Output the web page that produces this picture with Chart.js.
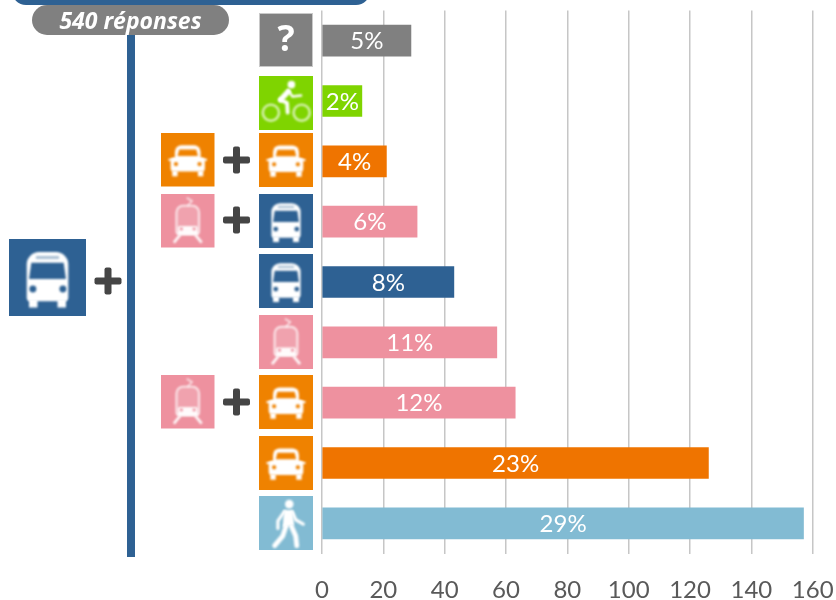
<!DOCTYPE html>
<html lang="fr">
<head>
<meta charset="utf-8">
<title>540 réponses</title>
<style>
    html, body { margin: 0; padding: 0; background: #fff; }
    canvas { display: block; }
</style>
<script src="https://cdn.jsdelivr.net/npm/chart.js@4"></script>
</head>
<body>
<canvas id="modes-chart" width="836" height="600"></canvas>
<script>
// Data
const categories = ['Ne sait pas', 'Vélo', 'Voiture + voiture', 'Tram + bus', 'Bus', 'Tram', 'Tram + voiture', 'Voiture', 'Marche'];
const answers = [29, 13, 21, 31, 43, 57, 63, 126, 157];
const shares = ['5%', '2%', '4%', '6%', '8%', '11%', '12%', '23%', '29%'];
const xTicks = [0, 20, 40, 60, 80, 100, 120, 140, 160];
const totalLabel = '540 réponses';

const GREY = '#808080', GREEN = '#7fd400', ORANGE = '#ef8200', PINK = '#ee919f', BLUE = '#2e6193', SKY = '#82bbd3';
const barColors = [GREY, GREEN, '#ef7400', PINK, BLUE, PINK, PINK, '#ef7400', SKY];

// Icon tiles: kind, x, y, size
const tiles = [
    ['unknown', 259, 13, 54],
    ['bike', 259, 76, 54],
    ['car', 259, 133, 54],
    ['car', 161, 133, 53.5],
    ['bus', 259, 194, 54],
    ['tram', 161, 194, 53.5],
    ['bus', 259, 254, 54],
    ['tram', 259, 315, 54],
    ['car', 259, 375, 54],
    ['tram', 161, 375, 53.5],
    ['car', 259, 436, 54],
    ['walk', 259, 496, 54],
    ['bus', 9, 239, 77]
];
const plusSigns = [[236.5, 160], [236.5, 220], [236.5, 402], [108, 281]];

function poly(ctx, pts) {
    ctx.beginPath();
    pts.forEach((p, i) => i ? ctx.lineTo(p[0], p[1]) : ctx.moveTo(p[0], p[1]));
}

function round(ctx, x, y, w, h, r) {
    ctx.beginPath();
    ctx.roundRect(x, y, w, h, r);
}

// Glyphs are drawn in a 100x100 box
function drawCar(ctx, bg) {
    ctx.fillStyle = '#fff';
    round(ctx, 26, 23, 48, 30, [12, 12, 0, 0]); ctx.fill();
    round(ctx, 18, 46, 64, 26, 6); ctx.fill();
    ctx.fillRect(21, 70, 10, 11);
    ctx.fillRect(69, 70, 10, 11);
    ctx.fillRect(14, 48, 72, 4);
    ctx.fillStyle = bg;
    poly(ctx, [[34, 31], [66, 31], [69, 43], [31, 43]]); ctx.fill();
    ctx.beginPath(); ctx.arc(28, 58, 4, 0, Math.PI * 2); ctx.arc(72, 58, 4, 0, Math.PI * 2); ctx.fill();
}

function drawBus(ctx, bg) {
    ctx.fillStyle = '#fff';
    round(ctx, 23, 17, 54, 64, [16, 16, 5, 5]); ctx.fill();
    ctx.fillRect(26, 78, 11, 11);
    ctx.fillRect(63, 78, 11, 11);
    ctx.fillStyle = bg;
    poly(ctx, [[29, 31], [71, 31], [74, 52], [26, 52]]); ctx.fill();
    ctx.fillStyle = 'rgba(46,97,147,0.4)';
    ctx.fillRect(35, 22, 30, 4);
    ctx.fillStyle = bg;
    ctx.beginPath(); ctx.arc(31, 65, 4.5, 0, Math.PI * 2); ctx.arc(70, 65, 4.5, 0, Math.PI * 2); ctx.fill();
}

function drawTram(ctx, bg) {
    ctx.fillStyle = 'rgba(255,255,255,0.16)';
    round(ctx, 29, 22, 42, 52, [12, 12, 4, 4]); ctx.fill();
    ctx.strokeStyle = 'rgba(255,255,255,0.75)';
    ctx.fillStyle = 'rgba(255,255,255,0.95)';
    ctx.lineWidth = 4;
    round(ctx, 29, 22, 42, 52, [12, 12, 4, 4]); ctx.stroke();
    ctx.lineWidth = 3;
    ctx.beginPath(); ctx.moveTo(50, 22); ctx.lineTo(58, 13); ctx.lineTo(48, 7); ctx.stroke();
    round(ctx, 31, 60, 38, 17, 3); ctx.fill();
    ctx.fillStyle = bg;
    ctx.beginPath(); ctx.arc(38, 65, 3, 0, Math.PI * 2); ctx.arc(62, 65, 3, 0, Math.PI * 2); ctx.fill();
    ctx.strokeStyle = 'rgba(255,255,255,0.95)';
    ctx.lineWidth = 5;
    ctx.beginPath(); ctx.moveTo(36, 76); ctx.lineTo(24, 91); ctx.moveTo(64, 76); ctx.lineTo(76, 91); ctx.stroke();
}

function drawWalk(ctx) {
    ctx.fillStyle = '#fff';
    ctx.strokeStyle = '#fff';
    ctx.lineCap = 'round';
    ctx.lineJoin = 'round';
    ctx.beginPath(); ctx.arc(56, 15, 8, 0, Math.PI * 2); ctx.fill();
    poly(ctx, [[46, 26], [63, 26], [65, 54], [44, 58]]); ctx.fill();
    ctx.lineWidth = 6;
    ctx.beginPath(); ctx.moveTo(47, 29); ctx.lineTo(35, 46); ctx.lineTo(35, 60); ctx.stroke();
    ctx.beginPath(); ctx.moveTo(62, 30); ctx.lineTo(68, 44); ctx.lineTo(82, 52); ctx.stroke();
    ctx.lineWidth = 9;
    ctx.beginPath(); ctx.moveTo(50, 56); ctx.lineTo(44, 74); ctx.lineTo(29, 92); ctx.stroke();
    ctx.beginPath(); ctx.moveTo(60, 56); ctx.lineTo(68, 74); ctx.lineTo(70, 92); ctx.stroke();
}

function drawBike(ctx) {
    ctx.strokeStyle = 'rgba(255,255,255,0.7)';
    ctx.lineWidth = 4.5;
    ctx.beginPath(); ctx.arc(22, 68, 15, 0, Math.PI * 2); ctx.stroke();
    ctx.beginPath(); ctx.arc(79, 68, 15, 0, Math.PI * 2); ctx.stroke();
    ctx.strokeStyle = '#fff';
    ctx.fillStyle = '#fff';
    ctx.lineCap = 'round';
    ctx.lineJoin = 'round';
    ctx.beginPath(); ctx.arc(60, 16, 7, 0, Math.PI * 2); ctx.fill();
    ctx.lineWidth = 10;
    ctx.beginPath(); ctx.moveTo(54, 29); ctx.lineTo(40, 44); ctx.stroke();
    ctx.lineWidth = 7;
    ctx.beginPath(); ctx.moveTo(40, 44); ctx.lineTo(52, 50); ctx.lineTo(53, 68); ctx.stroke();
    ctx.lineWidth = 4.5;
    ctx.beginPath(); ctx.moveTo(54, 27); ctx.lineTo(62, 38); ctx.lineTo(78, 36); ctx.stroke();
}

const glyphs = { car: drawCar, bus: drawBus, tram: drawTram, walk: drawWalk, bike: drawBike };
const tileColors = { car: ORANGE, bus: BLUE, tram: PINK, walk: SKY, bike: GREEN, unknown: GREY };

function drawTile(ctx, kind, x, y, size) {
    const bg = tileColors[kind];
    ctx.save();
    ctx.fillStyle = bg;
    ctx.fillRect(x, y, size, size);
    if (kind === 'unknown') {
        ctx.strokeStyle = '#c9c9c9';
        ctx.strokeRect(x + 0.5, y + 0.5, size - 1, size - 1);
        ctx.fillStyle = '#fff';
        ctx.font = 'bold 36px "Open Sans"';
        ctx.textAlign = 'center';
        ctx.textBaseline = 'middle';
        ctx.fillText('?', x + size / 2, y + size / 2 + 1);
    } else {
        ctx.beginPath();
        ctx.rect(x, y, size, size);
        ctx.clip();
        ctx.filter = 'blur(1px)';
        ctx.translate(x, y);
        ctx.scale(size / 100, size / 100);
        glyphs[kind](ctx, bg);
    }
    ctx.restore();
}

// Everything around the bars: header, trunk line, pill, icons and plus signs
const decorations = {
    id: 'decorations',
    beforeDraw(chart) {
        const ctx = chart.ctx;
        ctx.save();
        ctx.fillStyle = BLUE;
        round(ctx, 12, -30, 358, 35, 14); ctx.fill();
        ctx.fillRect(127, 30, 8, 527);
        ctx.fillStyle = GREY;
        round(ctx, 32, 5, 197, 30, 15); ctx.fill();
        ctx.fillStyle = '#fff';
        ctx.font = 'italic bold 23px "Open Sans"';
        ctx.textAlign = 'center';
        ctx.textBaseline = 'middle';
        ctx.fillText(totalLabel, 130.5, 22);
        tiles.forEach(t => drawTile(ctx, t[0], t[1], t[2], t[3]));
        ctx.fillStyle = '#454545';
        plusSigns.forEach(p => {
            round(ctx, p[0] - 13.5, p[1] - 3.5, 27, 7, 2); ctx.fill();
            round(ctx, p[0] - 3.5, p[1] - 13.5, 7, 27, 2); ctx.fill();
        });
        ctx.restore();
    }
};

// Percentages in the middle of each bar
const shareLabels = {
    id: 'shareLabels',
    afterDatasetsDraw(chart) {
        const ctx = chart.ctx;
        ctx.save();
        ctx.fillStyle = '#fff';
        ctx.font = '24px Lato';
        ctx.textAlign = 'center';
        ctx.textBaseline = 'middle';
        chart.getDatasetMeta(0).data.forEach((bar, i) => {
            ctx.fillText(shares[i], (bar.base + bar.x) / 2, bar.y + 1);
        });
        ctx.restore();
    }
};

new Chart(document.getElementById('modes-chart').getContext('2d'), {
    type: 'bar',
    data: {
        labels: categories,
        datasets: [{
            data: answers,
            backgroundColor: barColors,
            borderWidth: 0,
            barThickness: 31
        }]
    },
    options: {
        indexAxis: 'y',
        responsive: false,
        animation: false,
        layout: { padding: { left: 322, right: 23.3, top: 10.5, bottom: 0 } },
        plugins: {
            legend: { display: false },
            tooltip: { enabled: false }
        },
        scales: {
            y: {
                display: false
            },
            x: {
                min: xTicks[0],
                max: xTicks[xTicks.length - 1],
                afterFit: scale => {
                    // fixed strip under the plot, no extra room for the end labels
                    scale.height = 46.5;
                    scale.paddingLeft = 0;
                    scale.paddingRight = 0;
                },
                afterBuildTicks: scale => { scale.ticks = xTicks.map(v => ({ value: v })); },
                border: { display: false },
                grid: { color: '#c6c6c6', lineWidth: 1.5, drawTicks: false },
                ticks: {
                    color: '#595959',
                    padding: 22,
                    maxRotation: 0,
                    font: { family: 'Lato', size: 24 }
                }
            }
        }
    },
    plugins: [decorations, shareLabels]
});
</script>
</body>
</html>
